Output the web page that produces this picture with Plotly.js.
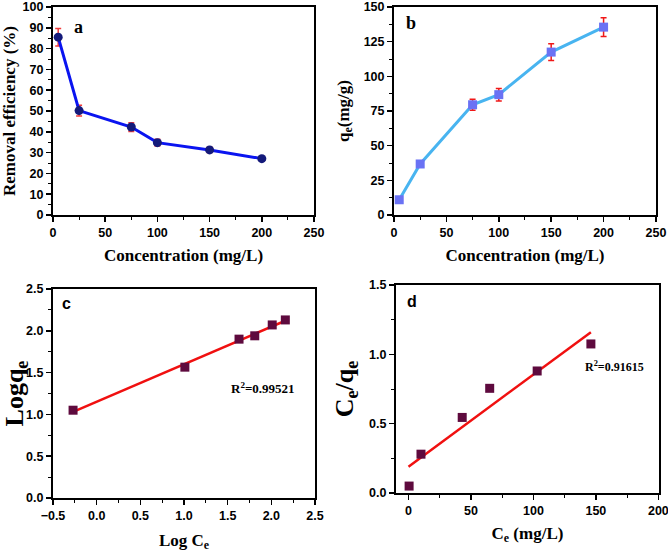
<!DOCTYPE html>
<html>
<head>
<meta charset="utf-8">
<script src="https://cdn.plot.ly/plotly-3.0.1.min.js"></script>
<style>html,body{margin:0;padding:0;background:#fff;}#chart{width:668px;height:553px;}</style>
</head>
<body>
<div id="chart"></div>
<script>
// Panel a: removal efficiency
const concA = [5, 25, 75, 100, 150, 200];
const removal = [85.5, 50.2, 42.3, 34.8, 31.3, 27.1];
const removalErr = [4.2, 2.6, 2.1, 1.6, 1.3, 1.0];
// Panel b: adsorption capacity
const concB = [5, 25, 75, 100, 150, 200];
const qe = [11.0, 36.8, 79.5, 86.8, 117.5, 135.5];
const qeErr = [1.2, 2.2, 4.0, 4.5, 6.0, 6.8];
// Panel c: Freundlich
const logCe = [-0.27, 1.01, 1.63, 1.81, 2.01, 2.16];
const logQe = [1.05, 1.565, 1.90, 1.94, 2.07, 2.13];
const fitCx = [-0.27, 2.16];
const fitCy = [1.03, 2.12];
// Panel d: Langmuir
const ce = [0.5, 10, 43, 65, 103, 146];
const ceQe = [0.05, 0.28, 0.545, 0.755, 0.88, 1.075];
const fitDx = [0, 146];
const fitDy = [0.19, 1.16];

const sans = 'Liberation Sans';
const serif = 'Liberation Serif';
const tickFont = {family: sans, size: 12.5, color: '#000', weight: 'bold'};

function ax(domain, range, dtick, minorD, title, titleSize, standoff, anchor, fmt) {
  const a = {
    domain: domain, range: range, dtick: dtick, tick0: 0,
    showline: true, linewidth: 2, linecolor: '#000', mirror: true,
    ticks: 'outside', ticklen: 5, tickwidth: 1.5, tickcolor: '#000',
    ticklabeloverflow: 'allow',
    minor: {dtick: minorD, ticks: 'outside', ticklen: 3, tickwidth: 1, tickcolor: '#000', showgrid: false},
    showgrid: false, zeroline: false, tickfont: tickFont, anchor: anchor,
    title: {text: title, font: {family: serif, size: titleSize, color: '#000', weight: 'bold'}, standoff: standoff},
    fixedrange: true
  };
  if (fmt) a.tickformat = fmt;
  return a;
}

const traces = [
  {x: concA, y: removal, xaxis: 'x', yaxis: 'y', type: 'scatter', mode: 'lines+markers',
   line: {color: '#0a14f0', width: 3}, marker: {symbol: 'circle', size: 9, color: '#141a7a'},
   error_y: {type: 'data', array: removalErr, visible: true, color: '#f03a3a', thickness: 1.5, width: 3}},
  {x: concB, y: qe, xaxis: 'x2', yaxis: 'y2', type: 'scatter', mode: 'lines+markers',
   line: {color: '#48b4f0', width: 3}, marker: {symbol: 'square', size: 9, color: '#6a72f4'},
   error_y: {type: 'data', array: qeErr, visible: true, color: '#f01818', thickness: 1.5, width: 3}},
  {x: fitCx, y: fitCy, xaxis: 'x3', yaxis: 'y3', type: 'scatter', mode: 'lines',
   line: {color: '#f01010', width: 2.5}},
  {x: logCe, y: logQe, xaxis: 'x3', yaxis: 'y3', type: 'scatter', mode: 'markers',
   marker: {symbol: 'square', size: 9, color: '#5e0a3e'}},
  {x: fitDx, y: fitDy, xaxis: 'x4', yaxis: 'y4', type: 'scatter', mode: 'lines',
   line: {color: '#f01010', width: 2.5}},
  {x: ce, y: ceQe, xaxis: 'x4', yaxis: 'y4', type: 'scatter', mode: 'markers',
   marker: {symbol: 'square', size: 9, color: '#5e0a3e'}}
];

const layout = {
  width: 668, height: 553, showlegend: false,
  margin: {l: 0, r: 0, t: 0, b: 0},
  paper_bgcolor: '#fff', plot_bgcolor: '#fff',
  xaxis: ax([0.0793, 0.4701], [0, 250], 50, 25, 'Concentration (mg/L)', 17, 10, 'y'),
  yaxis: ax([0.6112, 0.9873], [0, 100], 10, 5, 'Removal efficiency (%)', 17, 10, 'x'),
  xaxis2: ax([0.5898, 0.9820], [0, 250], 50, 25, 'Concentration (mg/L)', 17, 10, 'y2'),
  yaxis2: ax([0.6112, 0.9873], [0, 150], 25, 12.5, 'q<sub>e</sub>(mg/g)', 17, 10, 'x2'),
  xaxis3: ax([0.0793, 0.4716], [-0.5, 2.5], 0.5, 0.25, 'Log C<sub>e</sub>', 17, 12, 'y3', '.1f'),
  yaxis3: ax([0.0995, 0.4774], [0, 2.5], 0.5, 0.25, 'Logq<sub>e</sub>', 26, 6, 'x3', '.1f'),
  xaxis4: ax([0.5928, 0.9865], [-10, 200.5], 50, 25, 'C<sub>e</sub> (mg/L)', 17, 10, 'y4'),
  yaxis4: ax([0.1085, 0.4846], [0, 1.5], 0.5, 0.25, 'C<sub>e</sub>/q<sub>e</sub>', 26, 8, 'x4', '.1f'),
  annotations: [
    {xref: 'x', yref: 'y', x: 24, y: 90.4, text: 'a', showarrow: false, font: {family: serif, size: 18, color: '#000', weight: 'bold'}},
    {xref: 'x2', yref: 'y2', x: 16.2, y: 138.5, text: 'b', showarrow: false, font: {family: serif, size: 18, color: '#000', weight: 'bold'}},
    {xref: 'x3', yref: 'y3', x: -0.35, y: 2.33, text: 'c', showarrow: false, font: {family: sans, size: 16, color: '#000', weight: 'bold'}},
    {xref: 'x4', yref: 'y4', x: 2.6, y: 1.38, text: 'd', showarrow: false, font: {family: sans, size: 16, color: '#000', weight: 'bold'}},
    {xref: 'x3', yref: 'y3', x: 1.905, y: 1.32, text: 'R<sup>2</sup>=0.99521', showarrow: false, font: {family: serif, size: 13, color: '#000', weight: 'bold'}},
    {xref: 'x4', yref: 'y4', x: 164.7, y: 0.909, text: 'R<sup>2</sup>=0.91615', showarrow: false, font: {family: serif, size: 12, color: '#000', weight: 'bold'}}
  ]
};

Plotly.newPlot('chart', traces, layout, {staticPlot: true, displayModeBar: false});
</script>
</body>
</html>
